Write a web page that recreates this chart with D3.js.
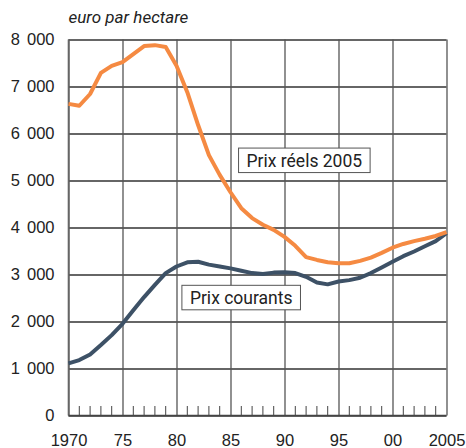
<!DOCTYPE html>
<html>
<head>
<meta charset="utf-8">
<script src="https://cdn.jsdelivr.net/npm/d3@7"></script>
<style>
  body { margin: 0; background: #fff; }
  svg { display: block; font-family: Roboto, "Liberation Sans", sans-serif; }
</style>
</head>
<body>
<svg id="chart"></svg>
<script>
const years = d3.range(1970, 2006);

const prixReels = [
  6630, 6590, 6840, 7290, 7440, 7520, 7690, 7860, 7880, 7840,
  7440, 6880, 6180, 5540, 5120, 4750, 4410, 4200, 4060, 3950,
  3800, 3610, 3370, 3310, 3260, 3240, 3240, 3290, 3360, 3460,
  3570, 3650, 3710, 3760, 3820, 3900
];

const prixCourants = [
  1110, 1180, 1300, 1500, 1710, 1950, 2240, 2520, 2780, 3030,
  3170, 3260, 3270, 3210, 3170, 3130, 3080, 3030, 3010, 3040,
  3050, 3030, 2950, 2830, 2790, 2850, 2880, 2930, 3030, 3150,
  3270, 3390, 3490, 3600, 3710, 3880
];

const yTicks = [0, 1000, 2000, 3000, 4000, 5000, 6000, 7000, 8000];
const xMajor = [1970, 1975, 1980, 1985, 1990, 1995, 2000, 2005];
const xMinor = years.filter(y => y % 5 !== 0);

const unitLabel = "euro par hectare";
const labelReels = "Prix réels 2005";
const labelCourants = "Prix courants";

function drawChart() {
  const dimensions = {
    width: 466,
    height: 448,
    margin: { top: 39.5, right: 19.5, bottom: 32.5, left: 68.5 }
  };
  const w = dimensions.width - dimensions.margin.left - dimensions.margin.right;
  const h = dimensions.height - dimensions.margin.top - dimensions.margin.bottom;

  const svg = d3.select("#chart")
    .attr("width", dimensions.width)
    .attr("height", dimensions.height);

  const g = svg.append("g")
    .attr("transform", `translate(${dimensions.margin.left},${dimensions.margin.top})`);

  const xScale = d3.scaleLinear().domain([1970, 2005]).range([0, w]);
  const yScale = d3.scaleLinear().domain([0, 8000]).range([h, 0]);

  const fmt = d3.formatLocale({ decimal: ",", thousands: " ", grouping: [3], currency: ["", ""] }).format(",");

  // horizontal grid + y labels
  const axisY = d3.axisLeft(yScale)
    .tickValues(yTicks)
    .tickSize(-w)
    .tickPadding(14)
    .tickFormat(fmt);
  const gy = g.append("g").call(axisY);
  gy.select(".domain").remove();
  gy.selectAll("line").attr("stroke", "#333").attr("stroke-width", 1.3);
  gy.selectAll("text")
    .attr("fill", "#222")
    .style("font-size", "16.5px")
    .style("word-spacing", "2.5px");

  // vertical grid + x labels
  const axisX = d3.axisBottom(xScale)
    .tickValues(xMajor)
    .tickSize(-h)
    .tickPadding(19)
    .tickFormat(d => (d === 1970 || d === 2005) ? String(d) : String(d).slice(2));
  const gx = g.append("g")
    .attr("transform", `translate(0,${h})`)
    .call(axisX);
  gx.select(".domain").remove();
  gx.selectAll("line").attr("stroke", "#555").attr("stroke-width", 1.3);
  gx.selectAll("text")
    .attr("fill", "#222")
    .style("font-size", "16.5px");

  // minor year ticks
  g.append("g")
    .selectAll("line")
    .data(xMinor)
    .enter()
    .append("line")
    .attr("x1", d => xScale(d))
    .attr("x2", d => xScale(d))
    .attr("y1", h)
    .attr("y2", h - 9.5)
    .attr("stroke", "#444")
    .attr("stroke-width", 1);

  // left and bottom axis lines
  g.append("line")
    .attr("x1", 0).attr("x2", 0).attr("y1", 0).attr("y2", h)
    .attr("stroke", "#666").attr("stroke-width", 1.6);
  g.append("line")
    .attr("x1", 0).attr("x2", w).attr("y1", h).attr("y2", h)
    .attr("stroke", "#444").attr("stroke-width", 1.6);

  const line = d3.line()
    .x((d, i) => xScale(years[i]))
    .y(d => yScale(d));

  g.append("path")
    .datum(prixCourants)
    .attr("d", line)
    .attr("fill", "none")
    .attr("stroke", "#3d5166")
    .attr("stroke-width", 4)
    .attr("stroke-linejoin", "round");

  g.append("path")
    .datum(prixReels)
    .attr("d", line)
    .attr("fill", "none")
    .attr("stroke", "#f58a42")
    .attr("stroke-width", 4)
    .attr("stroke-linejoin", "round");

  // unit label
  svg.append("text")
    .attr("x", dimensions.margin.left)
    .attr("y", 23)
    .style("font-size", "17px")
    .style("font-style", "italic")
    .attr("fill", "#222")
    .text(unitLabel);

  // labels in boxes
  function addLabel(text, x, y) {
    const lg = g.append("g").attr("transform", `translate(${x},${y})`);
    const t = lg.append("text")
      .attr("x", 8)
      .attr("y", 18.5)
      .style("font-size", "17.5px")
      .attr("fill", "#222")
      .text(text);
    const bw = t.node().getComputedTextLength();
    lg.insert("rect", "text")
      .attr("width", bw + 16)
      .attr("height", 24.5)
      .attr("fill", "#fff")
      .attr("stroke", "#555")
      .attr("stroke-width", 1);
  }

  addLabel(labelReels, xScale(1985.7) + 0.5, yScale(5690));
  addLabel(labelCourants, xScale(1980.5), yScale(2770));
}

drawChart();
</script>
</body>
</html>
